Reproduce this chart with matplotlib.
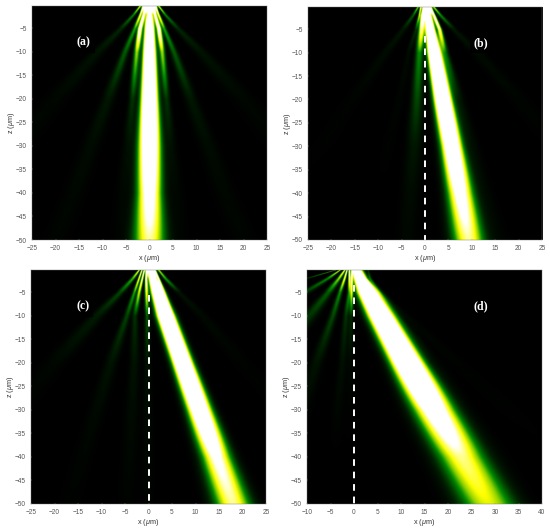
import matplotlib
matplotlib.use('Agg')
import matplotlib.pyplot as plt
from matplotlib.colors import LinearSegmentedColormap
import numpy as np

plt.rcParams['font.family'] = ['Liberation Sans', 'DejaVu Sans']
plt.rcParams['mathtext.fontset'] = 'custom'
plt.rcParams['mathtext.it'] = 'Liberation Sans:italic'

z_nodes = [-0.25, -2, -5, -10, -20, -30, -40, -50]

# each lobe: x centre, width, brightness at z_nodes
lobes_a = [
    ([0, 0, 0, 0, 0, 0, 0, 0], [.9, .5, .55, .72, .95, 1.3, 1.5, 2.0], [1.8, 1.3, 3, 3, 3, 2, 1.3, .85]),
    ([.8, 1.2, 2, 2.7, 3.6, 4.5, 5.5, 6.5], [.15, .2, .3, .4, .5, .8, 1.2, 1.5], [1.6, 1.5, 1.3, .5, .12, .04, .02, .01]),
    ([-.8, -1.2, -2, -2.7, -3.6, -4.5, -5.5, -6.5], [.15, .2, .3, .4, .5, .8, 1.2, 1.5], [1.6, 1.5, 1.3, .5, .12, .04, .02, .01]),
    ([1.3, 1.9, 3.1, 5.2, 8.8, 12.5, 16, 20], [.12, .18, .3, .5, .9, 1.3, 1.7, 2], [1.2, .9, .35, .2, .06, .03, .02, .015]),
    ([-1.3, -1.9, -3.1, -5.2, -8.8, -12.5, -16, -20], [.12, .18, .3, .5, .9, 1.3, 1.7, 2], [1.2, .9, .35, .2, .06, .03, .02, .015]),
    ([2, 3.3, 6, 11, 20, 28, 36, 44], [.12, .25, .5, 1, 1.8, 2.5, 3, 3], [.7, .3, .1, .05, .02, .012, .008, 0]),
    ([-2, -3.3, -6, -11, -20, -28, -36, -44], [.12, .25, .5, 1, 1.8, 2.5, 3, 3], [.7, .3, .1, .05, .02, .012, .008, 0]),
]

lobes_b = [
    ([.3, .5, 1, 1.9, 3.7, 5.6, 7.4, 9.2], [.6, .45, .55, .75, 1, 1.25, 1.6, 2.0], [1.6, 2.5, 3, 3.5, 3, 2, 1.25, .85]),
    ([-.3, -.6, -.8, -1.3, -1.8, -2.4, -3.2, -4], [.15, .25, .4, .55, .8, 1.1, 1.3, 1.5], [1.6, 1.6, .9, .3, .16, .06, .03, .02]),
    ([1, 1.8, 3, 4.1, 6.8, 9.5, 12, 15], [.15, .2, .3, .5, .9, 1.2, 1.5, 1.8], [1.4, 1.3, .9, .25, .07, .04, .03, .02]),
    ([-1, -1.3, -2, -3.6, -5.5, -8, -10, -12], [.12, .15, .25, .4, .7, 1, 1.2, 1.4], [.9, .6, .12, .03, .015, .01, 0, 0]),
    ([-1.6, -2.6, -4.7, -8.5, -15.5, -22, -30, -38], [.15, .25, .5, .8, 1.4, 1.8, 2, 2], [.5, .2, .06, .03, .012, .008, 0, 0]),
    ([1.8, 3.2, 6, 11, 20, 28, 36, 44], [.15, .3, .5, 1, 1.6, 2.2, 2.5, 2.5], [.6, .3, .06, .03, .015, .008, 0, 0]),
]

lobes_c = [
    ([.5, .9, 2, 3.7, 7.3, 10.9, 14.5, 18], [.6, .5, .75, 1, 1.15, 1.45, 1.85, 2.3], [1.6, 2.5, 3, 3.2, 3, 2, 1.1, .85]),
    ([-.4, -.5, -.4, -.3, -.2, -.2, -.2, -.2], [.12, .15, .25, .3, .5, .7, .9, 1], [1.6, 1.3, .7, .2, .05, .03, .02, .01]),
    ([-.9, -1.3, -2, -2.9, -3, -3.5, -4, -4.5], [.1, .15, .25, .4, .7, 1, 1.2, 1.5], [1.4, 1, .6, .12, .05, .03, .02, .01]),
    ([-1.4, -2, -3, -4.6, -8, -11, -14, -17], [.1, .15, .25, .45, .9, 1.2, 1.5, 1.8], [1.1, .8, .35, .15, .05, .025, .015, .01]),
    ([-2, -3.3, -6, -11, -20, -28, -36, -44], [.12, .3, .55, 1, 1.8, 2.2, 2.5, 2.5], [.8, .4, .16, .07, .02, .01, 0, 0]),
    ([1.3, 2.1, 3.3, 5, 7.5, 9.5, 12, 14], [.12, .18, .3, .3, .6, .9, 1.2, 1.5], [1.4, 1, .3, .08, .03, .015, .01, 0]),
    ([2.2, 3.6, 6.5, 11.5, 20, 29, 38, 46], [.15, .3, .5, 1, 1.6, 2, 2.5, 2.5], [.6, .35, .05, .025, .012, .008, 0, 0]),
]

lobes_d = [
    ([.6, 1.3, 3, 5.8, 11.4, 17.1, 22.9, 28.6], [.7, .75, 1.2, 1.5, 1.85, 2.5, 3.0, 3.5], [1.7, 3, 3, 3, 3, 1.5, .85, .62]),
    ([-.4, -.5, -.5, -.6, -.8, -1, -1.2, -1.4], [.1, .15, .2, .3, .5, .7, .8, 1], [1.6, 1, .6, .1, .02, .01, 0, 0]),
    ([-1, -1, -1, -1.7, -2.5, -3.5, -4, -5], [.1, .15, .25, .4, .6, .8, 1, 1], [1.3, .9, .35, .12, .04, .02, 0, 0]),
    ([-1.5, -2, -3, -4.5, -8, -11, -14, -17], [.1, .18, .3, .5, .9, 1.2, 1.5, 1.5], [1.1, .8, .3, .16, .05, .02, .01, 0]),
    ([-2, -3.2, -5.5, -9.5, -18, -26, -34, -42], [.12, .3, .6, 1.1, 1.6, 2, 2, 2], [.9, .5, .2, .12, .04, .01, 0, 0]),
    ([-3, -5.5, -10.5, -19, -36, -50, -60, -70], [.12, .4, .8, 1.3, 1.5, 2, 2, 2], [.7, .3, .12, .04, 0, 0, 0, 0]),
    ([-4, -10, -22, -40, -60, -80, -100, -120], [.08, .3, .5, 1, 1.5, 2, 2, 2], [.6, .12, .05, 0, 0, 0, 0, 0]),
    ([3, 3.4, 5.5, 9.3, 17.5, 24, 31, 37], [.15, .2, .25, .3, 1.0, 1.5, 1.8, 2], [.1, .2, .08, .04, .02, .012, .008, 0]),
    ([.3, 2.2, 5.2, 11, 22, 33, 44, 55], [.1, .2, .4, .9, 1.5, 2, 2.5, 2.5], [.1, .15, .05, .02, .012, .008, 0, 0]),
]

x_lims = [(-25, 25), (-25, 25), (-25, 25), (-10, 40)]
x_ticks = [range(-25, 26, 5), range(-25, 26, 5), range(-25, 26, 5), range(-10, 41, 5)]
z_ticks = list(range(-50, 0, 5))
panel_labels = ['(a)', '(b)', '(c)', '(d)']
label_spots = [(-14, -8), (12, -8), (-14, -8), (27, -8)]
dash_tops = [None, -6.5, -5.5, -3.5]
all_lobes = [lobes_a, lobes_b, lobes_c, lobes_d]

# axes corners in pixels: left, right, top, bottom
boxes = [(32, 267, 6, 240), (308, 542, 7, 240), (31, 266, 270, 504), (307, 542, 270, 504)]

beam_cmap = LinearSegmentedColormap.from_list('beam', [
    (0, (0, 0, 0)), (.08, (0, .12, 0)), (.3, (0, .55, 0)), (.47, (.55, .82, 0)),
    (.66, (1, 1, 0)), (1, (1, 1, 1))])

W, H = 550, 531
fig = plt.figure(figsize=(W / 100, H / 100), dpi=100)

for i in range(4):
    l, r, t, b = boxes[i]
    ax = fig.add_axes([l / W, 1 - b / H, (r - l) / W, (b - t) / H])
    xs = np.linspace(x_lims[i][0], x_lims[i][1], 900)
    zs = np.linspace(-0.25, -50, 900)
    X = xs[None, :]
    field = np.zeros((len(zs), len(xs)))
    for lx, ls, la in all_lobes[i]:
        cx = np.interp(-zs, -np.array(z_nodes), lx)[:, None]
        sg = np.interp(-zs, -np.array(z_nodes), ls)[:, None]
        am = np.interp(-zs, -np.array(z_nodes), la)[:, None]
        field += am * np.exp(-(X - cx) ** 2 / (2 * sg ** 2))
    ax.imshow(field, extent=[xs[0], xs[-1], -50, -0.25], cmap=beam_cmap, vmin=0, vmax=1,
              aspect='auto', interpolation='bilinear')
    if dash_tops[i] is not None:
        ax.plot([0, 0], [dash_tops[i], -50], color='white', lw=1.4, dashes=(3.4, 3.0))
    ax.set_xlim(x_lims[i])
    ax.set_ylim(-50, -0.25)
    ax.set_xticks(list(x_ticks[i]))
    ax.set_yticks(z_ticks)
    ax.tick_params(labelsize=4.7, colors='#555555', length=1, width=.3, direction='in', pad=3.5)
    ax.tick_params(color='#999999')
    ax.set_xlabel(r'x ($\mu$m)', fontsize=5.2, color='#333333', labelpad=.5)
    ax.set_ylabel(r'z ($\mu$m)', fontsize=5.2, color='#333333', labelpad=-.5)
    for s in ax.spines.values():
        s.set_linewidth(.3)
        s.set_color('#777777')
    ax.text(label_spots[i][0], label_spots[i][1], panel_labels[i], color='white', fontsize=8.5,
            fontweight='bold', family='Liberation Serif', ha='center', va='center',
            bbox=dict(facecolor='black', edgecolor='none', pad=3))

fig.savefig('out.png', dpi=100)
